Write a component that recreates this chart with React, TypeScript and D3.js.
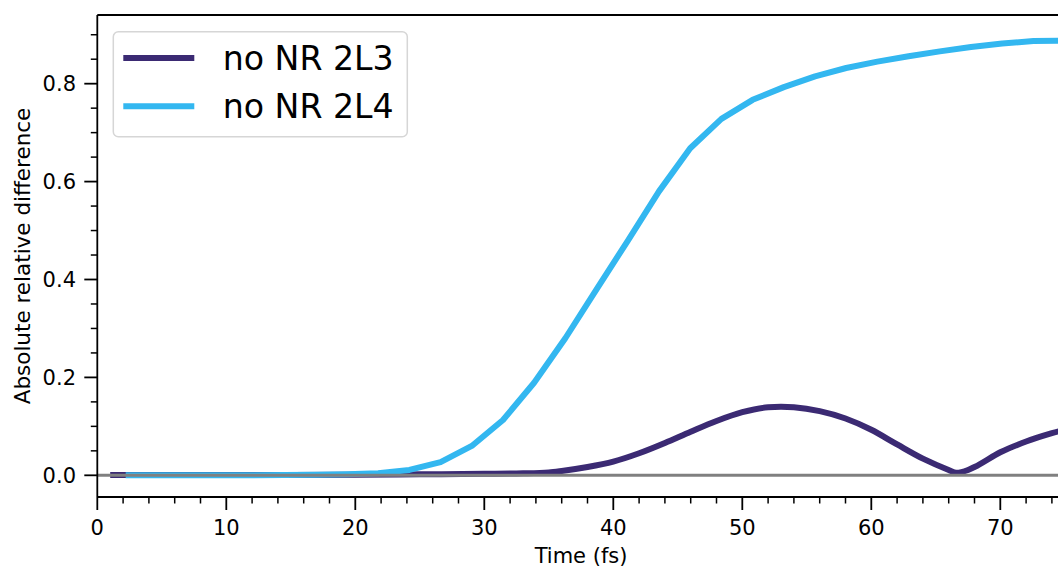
import React from "react";
import * as d3 from "d3";

const W = 1058;
const H = 569;

const lightTimes = [2.2, 4.84, 7.26, 9.68, 12.1, 14.51, 16.93, 19.35, 21.77, 24.19, 26.61, 29.03, 31.45, 33.86, 36.28, 38.7, 41.12, 43.54, 45.96, 48.38, 50.8, 53.22, 55.64, 58.05, 60.47, 62.89, 65.31, 67.73, 70.15, 72.57, 74.99];
const lightValues = [0, 0, 0, 0, 0, 0.0005, 0.001, 0.002, 0.004, 0.011, 0.027, 0.06, 0.113, 0.189, 0.28, 0.38, 0.479, 0.58, 0.668, 0.728, 0.767, 0.793, 0.815, 0.832, 0.845, 0.856, 0.866, 0.875, 0.882, 0.887, 0.888];

const darkTimes = [1.0, 5, 10, 15, 20, 25, 30, 33, 35, 36, 38, 40, 42, 44, 46, 48, 50, 52, 53, 54, 56, 58, 60, 62, 64, 66, 66.6, 67.5, 68, 70, 72, 74, 76];
const darkValues = [0.0005, 0.0005, 0.0005, 0.0005, 0.001, 0.002, 0.003, 0.004, 0.006, 0.009, 0.017, 0.028, 0.045, 0.066, 0.089, 0.111, 0.129, 0.139, 0.14, 0.139, 0.131, 0.116, 0.093, 0.063, 0.034, 0.011, 0.005, 0.011, 0.017, 0.047, 0.069, 0.086, 0.1];

const seriesNames = ["no NR 2L3", "no NR 2L4"];
const seriesColors = ["#3b2a73", "#33b7f0"];

const xMajor = [0, 10, 20, 30, 40, 50, 60, 70];
const yMajor = [0, 0.2, 0.4, 0.6, 0.8];

const FONT = "DejaVu Sans, sans-serif";

export default function App() {
  const left = 97.3;
  const right = 1064.8;
  const top = 15;
  const bottom = 497;
  const x = d3.scaleLinear().domain([0, 75]).range([left, right]);
  const y = d3.scaleLinear().domain([-0.0443, 0.9403]).range([bottom, top]);

  const xMinor = d3.range(0, 75.01, 2).filter((v) => v % 10 !== 0);
  const yMinor = d3.range(0, 0.941, 0.05).filter((v) => Math.abs(v * 5 - Math.round(v * 5)) > 1e-6);

  const lineLinear = d3
    .line<[number, number]>()
    .x((d) => x(d[0]))
    .y((d) => y(d[1]));
  const lineSmooth = d3
    .line<[number, number]>()
    .x((d) => x(d[0]))
    .y((d) => y(d[1]))
    .curve(d3.curveMonotoneX);

  const darkData: [number, number][] = darkTimes.map((t, i) => [t, darkValues[i]]);
  const lightData: [number, number][] = lightTimes.map((t, i) => [t, lightValues[i]]);

  return (
    <svg width={W} height={H} style={{ position: "absolute", left: 0, top: 0, background: "#fff" }} fontFamily={FONT}>
      <defs>
        <clipPath id="plot">
          <rect x={left} y={top} width={right - left} height={bottom - top} />
        </clipPath>
      </defs>
      <g clipPath="url(#plot)">
        <path d={lineSmooth(darkData) || ""} fill="none" stroke={seriesColors[0]} strokeWidth={6} />
        <path d={lineLinear(lightData) || ""} fill="none" stroke={seriesColors[1]} strokeWidth={6} strokeLinejoin="round" />
        <line x1={left} x2={right} y1={y(0)} y2={y(0)} stroke="#808080" strokeWidth={3} />
      </g>
      {/* spines */}
      <line x1={left} x2={left} y1={top} y2={bottom} stroke="#000" strokeWidth={1.8} />
      <line x1={left} x2={right} y1={bottom} y2={bottom} stroke="#000" strokeWidth={1.8} />
      <line x1={left} x2={right} y1={top} y2={top} stroke="#000" strokeWidth={1.8} />
      {/* x ticks */}
      {xMajor.map((v) => (
        <g key={"xm" + v}>
          <line x1={x(v)} x2={x(v)} y1={bottom} y2={bottom + 13} stroke="#000" strokeWidth={1.8} />
          <text x={x(v)} y={535} textAnchor="middle" fontSize={21} fill="#000">
            {v}
          </text>
        </g>
      ))}
      {xMinor.map((v) => (
        <line key={"xn" + v} x1={x(v)} x2={x(v)} y1={bottom} y2={bottom + 6.5} stroke="#000" strokeWidth={1.5} />
      ))}
      {/* y ticks */}
      {yMajor.map((v) => (
        <g key={"ym" + v}>
          <line x1={left - 13} x2={left} y1={y(v)} y2={y(v)} stroke="#000" strokeWidth={1.8} />
          <text x={76} y={y(v)} dy="0.36em" textAnchor="end" fontSize={21} fill="#000">
            {v.toFixed(1)}
          </text>
        </g>
      ))}
      {yMinor.map((v) => (
        <line key={"yn" + v} x1={left - 6.5} x2={left} y1={y(v)} y2={y(v)} stroke="#000" strokeWidth={1.5} />
      ))}
      {/* axis labels */}
      <text x={(left + right) / 2} y={563} textAnchor="middle" fontSize={21} fill="#000">
        Time (fs)
      </text>
      <text transform={`translate(30,${(top + bottom) / 2}) rotate(-90)`} textAnchor="middle" fontSize={21.5} fill="#000">
        Absolute relative difference
      </text>
      {/* legend */}
      <rect x={113.3} y={31.7} width={294} height={105} rx={5} fill="#fff" fillOpacity={0.8} stroke="#d6d6d6" strokeWidth={1.5} />
      {seriesNames.map((name, i) => {
        const ly = 58 + i * 48.3;
        return (
          <g key={name}>
            <line x1={123.3} x2={194.3} y1={ly} y2={ly} stroke={seriesColors[i]} strokeWidth={6} />
            <text x={222.7} y={ly + 12} fontSize={33.2} fill="#000">
              {name}
            </text>
          </g>
        );
      })}
    </svg>
  );
}
